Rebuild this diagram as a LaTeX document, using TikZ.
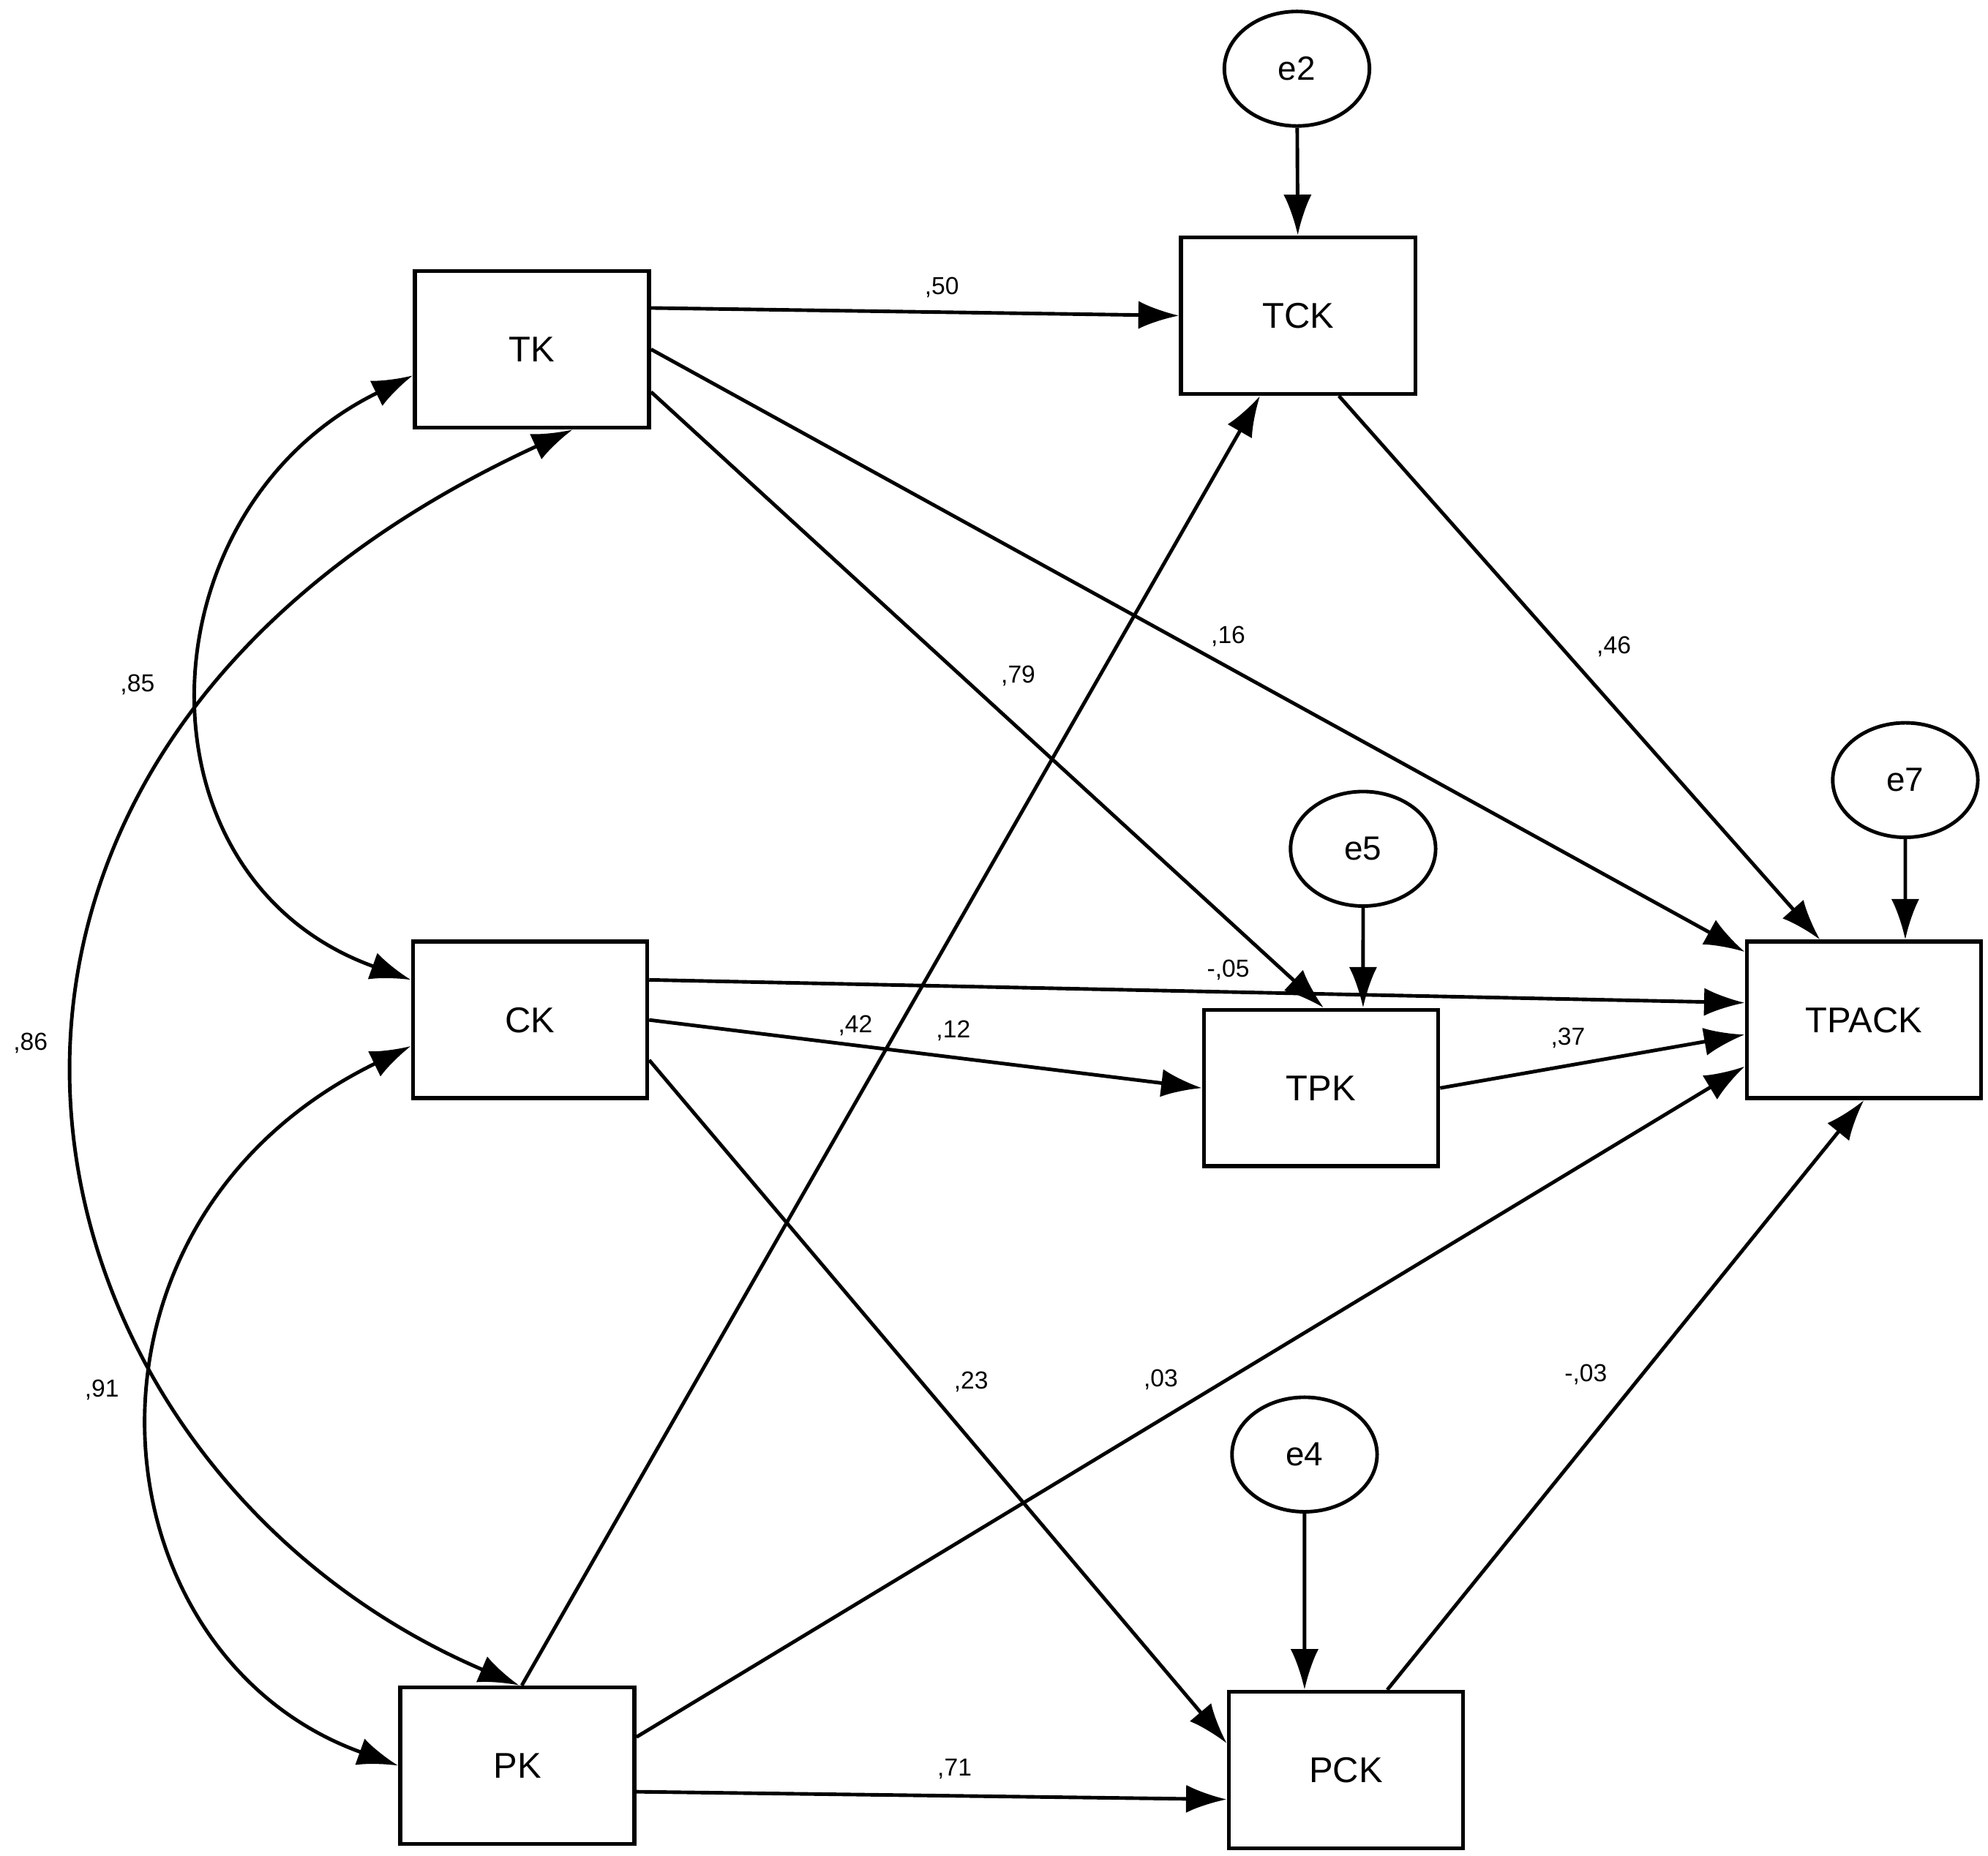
\documentclass[tikz,border=0pt]{standalone}
\usepackage{fontspec}
\setmainfont{Liberation Sans}
\usetikzlibrary{arrows.meta,shapes.geometric}
\begin{document}
\begin{tikzpicture}[x=0.1mm,y=-0.1mm,
 box/.style={draw,line width=0.9pt,minimum width=18.4mm,minimum height=12.3mm,inner sep=0,font=\fontsize{8}{9}\selectfont},
 err/.style={draw,ellipse,line width=0.8pt,minimum width=11.4mm,minimum height=9mm,inner sep=0,font=\fontsize{7.5}{9}\selectfont},
 arr/.style={line width=0.8pt,-{Latex[length=3.2mm,width=2.2mm]}},
 dbl/.style={line width=0.8pt,{Latex[length=3.2mm,width=2.2mm]}-{Latex[length=3.2mm,width=2.2mm]}},
 lab/.style={font=\fontsize{5.5}{6}\selectfont,inner sep=0}]
\useasboundingbox (0,0) rectangle (1562,1458);
\node[box] (TK) at (418,274.5) {TK};
\node[box] (TCK) at (1020,248) {TCK};
\node[box] (CK) at (416.5,801.5) {CK};
\node[box] (TPK) at (1038,855) {TPK};
\node[box] (TPACK) at (1464.5,801.5) {TPACK};
\node[box] (PK) at (406.5,1387.5) {PK};
\node[box] (PCK) at (1057.5,1391) {PCK};
\node[err] (e2) at (1019,54) {e2};
\node[err] (e5) at (1071,667) {e5};
\node[err] (e7) at (1497,613) {e7};
\node[err] (e4) at (1025,1143) {e4};

\draw[arr] (e2) -- (TCK);
\draw[arr] (e5) -- ([xshift=3.3mm]TPK.north);
\draw[arr] (e7) -- ([xshift=3.25mm]TPACK.north);
\draw[arr] (e4) -- ([xshift=-3.25mm]PCK.north);

\draw[arr] ([yshift=3.25mm]TK.east) -- (TCK.west);
\draw[arr] (TK.east) -- ([yshift=5.35mm]TPACK.west);
\draw[arr] ([yshift=-3.35mm]TK.east) -- ([xshift=0.2mm]TPK.north);
\draw[arr] ([xshift=3.2mm]TCK.south) -- ([xshift=-3.45mm]TPACK.north);
\draw[arr] ([xshift=0.35mm]PK.north) -- ([xshift=-3mm]TCK.south);
\draw[arr] ([yshift=3.15mm]CK.east) -- ([yshift=1.35mm]TPACK.west);
\draw[arr] (CK.east) -- (TPK.west);
\draw[arr] ([yshift=-3.15mm]CK.east) -- ([yshift=2.1mm]PCK.west);
\draw[arr] ([yshift=2.25mm]PK.east) -- ([yshift=-3.65mm]TPACK.west);
\draw[arr] ([yshift=-2.05mm]PK.east) -- ([yshift=-2.3mm]PCK.west);
\draw[arr] (TPK.east) -- ([yshift=-1.15mm]TPACK.west);
\draw[arr] ([xshift=3.25mm]PCK.north) -- (TPACK.south);

\draw[dbl] ([yshift=-2.05mm]TK.west) .. controls (110,400) and (100,690) .. ([yshift=3.15mm]CK.west);
\draw[dbl] ([xshift=3.2mm]TK.south) .. controls (-120,600) and (0,1150) .. ([xshift=0.15mm]PK.north);
\draw[dbl] ([yshift=-2.05mm]CK.west) .. controls (40,960) and (70,1300) .. (PK.west);

\node[lab] (l50) at (740,226) {,50};
\node[lab] (l16) at (965,500) {,16};
\node[lab] (l79) at (800,531) {,79};
\node[lab] (l46) at (1268,508) {,46};
\node[lab] (l42) at (672,806) {,42};
\node[lab] (l12) at (749,810) {,12};
\node[lab] (l05) at (965,762) {-,05};
\node[lab] (l37) at (1232,816) {,37};
\node[lab] (l23) at (763,1086) {,23};
\node[lab] (l03) at (912,1084) {,03};
\node[lab] (lm03) at (1246,1080) {-,03};
\node[lab] (l71) at (750,1390) {,71};
\node[lab] (l85) at (108,538) {,85};
\node[lab] (l91) at (80,1092) {,91};
\node[lab] (l86) at (24,820) {,86};
\end{tikzpicture}
\end{document}
